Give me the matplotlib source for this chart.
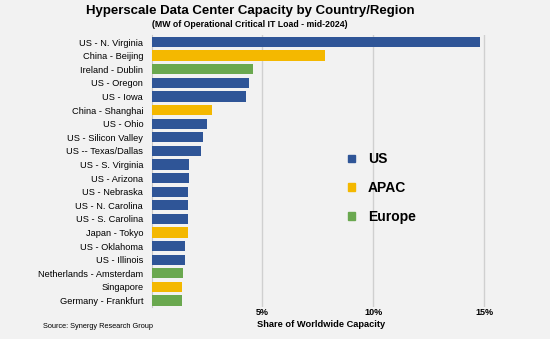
import matplotlib.pyplot as plt
from matplotlib.patches import Patch

plt.rcParams['font.family'] = ['Liberation Sans', 'DejaVu Sans']

locations = ['US - N. Virginia', 'China - Beijing', 'Ireland - Dublin', 'US - Oregon',
             'US - Iowa', 'China - Shanghai', 'US - Ohio', 'US - Silicon Valley',
             'US -- Texas/Dallas', 'US - S. Virginia', 'US - Arizona', 'US - Nebraska',
             'US - N. Carolina', 'US - S. Carolina', 'Japan - Tokyo', 'US - Oklahoma',
             'US - Illinois', 'Netherlands - Amsterdam', 'Singapore', 'Germany - Frankfurt']
share = [14.8, 7.8, 4.59, 4.41, 4.24, 2.71, 2.49, 2.32, 2.24, 1.70, 1.67, 1.65,
         1.65, 1.65, 1.64, 1.52, 1.51, 1.42, 1.38, 1.38]
region = ['US', 'APAC', 'Europe', 'US', 'US', 'APAC', 'US', 'US', 'US', 'US', 'US', 'US',
          'US', 'US', 'APAC', 'US', 'US', 'Europe', 'APAC', 'Europe']
xticks = [5, 10, 15]
xtick_labels = ['5%', '10%', '15%']

colors = {'US': '#2f5597', 'APAC': '#f4b800', 'Europe': '#6aa84f'}
bg = '#f2f2f2'

fig = plt.figure(figsize=(5.5, 3.39), dpi=100, facecolor=bg)
ax = fig.add_axes([0.2755, 0.0935, 0.617, 0.8025], facecolor=bg)

y = list(range(len(locations)))
ax.barh(y, share, height=0.76, color=[colors[r] for r in region], zorder=3)
ax.set_ylim(len(locations) - 0.5, -0.5)
ax.set_xlim(0, 15.3)
ax.set_yticks(y)
ax.set_yticklabels(locations, fontsize=6.7)
ax.set_xticks(xticks)
ax.set_xticklabels(xtick_labels, fontsize=6.5, fontweight='bold')
ax.tick_params(axis='y', length=0, pad=6)
ax.tick_params(axis='x', length=0, pad=0.5)
ax.grid(axis='x', color='#d0d0d0', linewidth=1, zorder=0)
for s in ['top', 'right', 'bottom']:
    ax.spines[s].set_visible(False)
ax.spines['left'].set_color('#c8c8c8')
ax.set_xlabel('Share of Worldwide Capacity', fontsize=6.7, fontweight='bold', labelpad=2)

handles = [Patch(color=colors[k], label=k) for k in colors]
fig.legend(handles=handles, loc='center left', bbox_to_anchor=(0.6336, 0.4454),
           frameon=False, borderpad=0, borderaxespad=0,
           handlelength=0.5, handleheight=0.5, handletextpad=0.9,
           labelspacing=1.05, prop={'weight': 'bold', 'size': 10})

fig.text(0.456, 0.967, 'Hyperscale Data Center Capacity by Country/Region',
         ha='center', va='center', fontsize=9.5, fontweight='bold')
fig.text(0.455, 0.928, '(MW of Operational Critical IT Load - mid-2024)',
         ha='center', va='center', fontsize=6.35, fontweight='bold')
fig.text(0.079, 0.036, 'Source: Synergy Research Group', fontsize=5.3, ha='left', va='center')

fig.savefig('out.png', dpi=100, facecolor=bg)
